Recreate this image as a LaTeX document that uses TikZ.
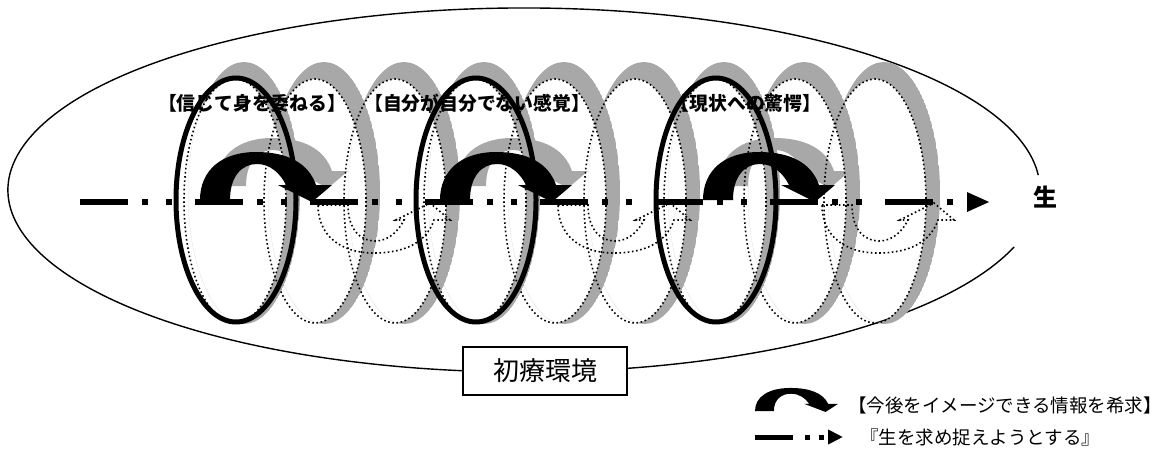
\documentclass[tikz,border=0pt]{standalone}
\usepackage{fontspec}
\newfontfamily\jp{Noto Sans CJK JP}
\usetikzlibrary{arrows.meta}
\tikzset{
  bigell/.style={line width=1.4pt},
  coilgray/.style={fill=black!34},
  dotline/.style={line width=1.6pt, dash pattern=on 1.6pt off 2.6pt},
  blackell/.style={line width=5pt},
  axisline/.style={line width=6pt, dash pattern=on 48pt off 14pt on 6pt off 18pt on 6pt off 23pt, -{Triangle[length=23pt,width=18pt]}},
  legaxis/.style={line width=5pt, dash pattern=on 38pt off 12pt on 5pt off 9pt on 5pt off 60pt, -{Triangle[length=15pt,width=14pt]}},
  toplabel/.style={font=\jp\bfseries\fontsize{18.8}{20}\selectfont, inner sep=0pt},
  legtext/.style={font=\jp\fontsize{18.5}{20}\selectfont, inner sep=0pt},
  envbox/.style={draw, line width=1.2pt, fill=white, minimum width=164pt, minimum height=48pt, inner sep=0pt, font=\jp\fontsize{26}{28}\selectfont},
  curvarr/.pic={\path[pic actions] (0,0) -- (30,0) .. controls (30,-24) and (42,-36) .. (57,-36) .. controls (70,-36) and (80,-27) .. (86,-15) -- (78,-15) -- (112,2) -- (132,-15) -- (116,-15) .. controls (108,-38) and (86,-48) .. (56,-48) .. controls (22,-48) and (0,-30) .. (0,0) -- cycle;},
  coilband/.pic={\begin{scope}\clip (9,-8) ellipse [x radius=56, y radius=131];
    \fill[coilgray, even odd rule] (9,-8) ellipse [x radius=56, y radius=131] (0,0) ellipse [x radius=51, y radius=122];\end{scope}}
}
\begin{document}
\begin{tikzpicture}[x=1pt, y=-1pt]
\useasboundingbox (0,0) rectangle (1170,450);
% outer environment ellipse (open on the right)
\draw[bigell] (524,190) ++(18.25:516 and 182) arc[start angle=18.25, end angle=355.3, x radius=516, y radius=182];
% gray coil bands
\foreach \cx in {235,315,...,875} { \pic at (\cx,201) {coilband}; }
% gray shadow arrows
\foreach \ax in {216,456,718} { \pic[fill=black!34] at (\ax,186) {curvarr}; }
% dotted coil back parts
\foreach \cx in {235,315,...,875} { \draw[dotline] (\cx,201) ellipse [x radius=51, y radius=122]; }
% dotted reflected arrows below the axis
\foreach \dx in {318,558,822} { \pic[draw, dotline, yscale=-1] at (\dx,205) {curvarr}; }
% labels
\node[toplabel] (l1) at (252,103) {【信じて身を委ねる】};
\node[toplabel] (l2) at (477,103) {【自分が自分でない感覚】};
\node[toplabel] (l3) at (746,103) {【現状への驚愕】};
% axis
\coordinate (axs) at (80,202);
\coordinate (axe) at (990,202);
\draw[axisline] (axs) -- (axe);
% black ellipses
\foreach \ex in {236,476,716} { \draw[blackell] (\ex,200) ellipse [x radius=60, y radius=122]; }
% black curved arrows
\foreach \ax in {200,440,703} { \pic[fill=black] at (\ax,200) {curvarr}; }
% environment box
\node[envbox] (env) at (545,371) {初療環境};
\node[font=\jp\bfseries\fontsize{24}{24}\selectfont, inner sep=0pt] (sei) at (1045,197) {生};
% legend
\pic[fill=black, xscale=0.63, yscale=0.48] at (755,411) {curvarr};
\node[legtext, anchor=east] (lt1) at (1162,405) {【今後をイメージできる情報を希求】};
\coordinate (lg1) at (755,437);
\coordinate (lg2) at (843,437);
\draw[legaxis] (lg1) -- (lg2);
\node[legtext, anchor=west] (lt2) at (860,437) {『生を求め捉えようとする』};
\end{tikzpicture}
\end{document}
